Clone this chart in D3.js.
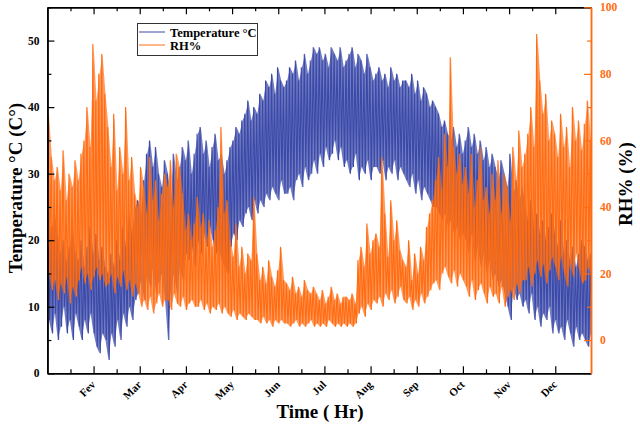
<!DOCTYPE html>
<html>
<head>
<meta charset="utf-8">
<script src="https://cdn.jsdelivr.net/npm/d3@7"></script>
<style>
  html, body { margin: 0; padding: 0; background: #fff; }
  svg { display: block; font-family: "Liberation Serif", "Times New Roman", serif; }
</style>
</head>
<body>
<svg id="chart" width="640" height="424"></svg>
<script>
// ---------- data ----------
// each entry = one 48-hour period; envelope (max / min) of the hourly trace
const monthLabels = ["Fev","Mar","Apr","May","Jun","Jul","Aug","Sep","Oct","Nov","Dec"];
const tempTicks = [0, 10, 20, 30, 40, 50];
const rhTicks = [0, 20, 40, 60, 80, 100];

const tempMax = [
  19,22,24,21,18,20,17,19,22,18,
  17,20,16,19,22,18,21,17,19,16,
  15,18,16,20,17,22,19,24,21,25,
  26,24,29,33,35,31,34,30,28,32,
  30,26,33,29,31,34,32,35,30,33,
  36,37,33,35,31,34,36,32,33,30,
  32,34,35,37,36,38,39,41,38,40,
  39,42,41,44,43,45,42,46,44,43,
  44,46,45,47,44,46,48,45,47,49,
  48,49,47,48,46,49,48,47,49,46,
  47,48,49,46,48,47,45,48,46,44,
  45,46,44,45,43,46,44,45,43,44,
  44,43,45,42,44,41,43,42,40,41,
  40,39,37,38,36,35,37,34,36,33,
  35,37,34,36,33,35,32,34,31,33,
  31,29,32,30,28,33,27,29,26,28,
  25,23,26,22,24,21,23,20,22,24,
  21,19,23,18,20,17,19,16,18,20,
  19,17,18
];
const tempMin = [
  8,6,9,5,7,10,6,8,5,9,
  7,5,8,6,9,6,4,3,6,5,
  2,6,4,8,5,9,7,10,8,11,
  12,14,11,15,13,16,12,14,15,11,
  5,13,15,12,16,14,18,17,19,16,
  20,18,21,19,22,20,18,19,17,16,
  15,19,21,20,23,22,24,25,23,26,
  24,26,25,27,26,28,27,26,29,27,
  27,28,26,29,30,28,31,29,30,32,
  30,33,31,34,32,33,35,32,34,31,
  32,30,31,33,29,31,30,32,29,31,
  31,30,32,29,31,30,32,29,31,30,
  29,28,30,27,29,26,28,27,26,25,
  25,24,23,24,22,23,21,22,20,21,
  20,18,21,17,19,16,18,15,17,14,
  15,13,14,12,10,8,13,11,12,10,
  11,9,12,8,10,7,9,8,10,6,
  8,6,7,5,8,6,4,7,5,6,
  5,4,6
];
const rhMax = [
  68,55,48,52,45,57,42,50,46,54,
  48,56,60,70,58,89,72,80,86,74,
  64,52,68,45,58,50,70,48,55,44,
  40,52,46,38,55,42,48,36,44,50,
  46,54,40,56,52,44,33,38,30,35,
  43,34,38,30,36,28,33,40,64,38,
  42,30,25,35,22,28,20,26,24,43,
  26,18,22,17,24,19,16,21,28,18,
  17,15,19,14,16,13,18,15,14,16,
  14,12,15,11,13,16,12,14,11,13,
  13,12,14,11,24,28,22,35,26,30,
  32,28,55,38,25,42,30,36,27,24,
  22,30,18,26,20,28,24,34,38,42,
  48,55,45,62,52,85,58,50,56,47,
  52,44,56,40,48,58,42,46,38,50,
  42,54,38,50,46,36,58,48,63,52,
  56,62,70,58,92,78,68,74,60,66,
  62,55,68,58,64,52,70,60,66,57,
  65,72,60
];
const rhMin = [
  20,15,18,12,17,14,19,11,16,13,
  18,22,17,20,15,19,22,18,20,16,
  17,20,14,19,16,21,15,18,13,17,
  14,10,12,9,13,8,11,14,10,12,
  12,9,14,11,10,13,9,11,12,10,
  10,12,9,11,8,10,9,11,8,10,
  8,7,9,6,8,7,6,8,7,6,
  6,5,7,5,6,4,6,5,6,5,
  5,4,5,6,4,5,4,5,6,4,
  5,4,5,4,6,5,4,5,4,5,
  4,5,4,5,8,10,7,11,9,12,
  11,13,10,14,12,15,11,13,16,12,
  11,13,9,12,10,14,11,13,15,17,
  18,15,20,22,19,17,21,16,20,18,
  16,13,18,12,15,17,14,11,16,13,
  14,11,16,10,13,15,12,17,14,18,
  18,22,16,20,24,19,23,17,21,25,
  22,18,25,20,16,23,19,26,21,17,
  18,22,20
];

// ---------- layout ----------
const BLUE = "#3b49a9", ORANGE = "#ff6c12";
const L = 47.4, R = 591, T = 7.3, B = 373.3;
const svg = d3.select("#chart");

const x = d3.scaleLinear().domain([0, 8760]).range([L, R]);
const yT = d3.scaleLinear().domain([0, 55]).range([B, T]);
const yR = d3.scaleLinear().domain([-10, 100]).range([B, T]);

const PERIOD = 48;
const tempPts = tempMax.flatMap((mx, i) => [[PERIOD * i + 12, mx], [PERIOD * i + 36, tempMin[i]]]);
const rhPts = rhMax.flatMap((mx, i) => [[PERIOD * i + 12, mx], [PERIOD * i + 36, rhMin[i]]]);
const tempBand = tempMax.map((mx, i) => ({ h: PERIOD * i + 24, hi: mx, lo: tempMin[i] }));
const rhBand = rhMax.map((mx, i) => ({ h: PERIOD * i + 24, hi: mx, lo: rhMin[i] }));

svg.append("defs").append("clipPath").attr("id", "clip")
  .append("rect").attr("x", L).attr("y", T).attr("width", R - L).attr("height", B - T);

const plot = svg.append("g").attr("clip-path", "url(#clip)");
// temperature
plot.append("path").datum(tempBand)
  .attr("fill", BLUE).attr("fill-opacity", 0.72).attr("stroke", "none")
  .attr("d", d3.area().x(d => x(d.h)).y0(d => yT(d.lo)).y1(d => yT(d.hi)));
plot.append("path").datum(tempPts)
  .attr("fill", "none").attr("stroke", BLUE).attr("stroke-width", 1.1)
  .attr("d", d3.line().x(d => x(d[0])).y(d => yT(d[1])));
// relative humidity
plot.append("path").datum(rhBand)
  .attr("fill", ORANGE).attr("fill-opacity", 0.68).attr("stroke", "none")
  .attr("d", d3.area().x(d => x(d.h)).y0(d => yR(d.lo)).y1(d => yR(d.hi)));
plot.append("path").datum(rhPts)
  .attr("fill", "none").attr("stroke", ORANGE).attr("stroke-width", 1.1)
  .attr("d", d3.line().x(d => x(d[0])).y(d => yR(d[1])));

// ---------- axes ----------
const monthTicks = monthLabels.map((m, i) => 744 * (i + 1));
const minorX = d3.range(0, 11).map(i => 744 * i + 372);

function styleAxis(g, color) {
  g.attr("color", color);
  g.select(".domain").attr("stroke-width", 1.5);
  g.selectAll(".tick line").attr("stroke-width", 1.2);
  g.selectAll("text").attr("font-family", "Liberation Serif, Times New Roman, serif")
    .attr("font-weight", "bold").attr("font-size", 11.5);
}

// bottom
const gB = svg.append("g").attr("transform", `translate(0,${B})`)
  .call(d3.axisBottom(x).tickValues(monthTicks).tickSize(-7).tickSizeOuter(0)
    .tickFormat((d, i) => monthLabels[i]));
styleAxis(gB, "#000");
gB.selectAll("text").attr("y", null).attr("dy", null)
  .attr("text-anchor", "end").attr("font-size", 11)
  .attr("transform", "translate(2,12) rotate(-45)");
svg.append("g").attr("transform", `translate(0,${B})`)
  .call(d3.axisBottom(x).tickValues(minorX).tickSize(-4).tickSizeOuter(0).tickFormat(""))
  .call(g => styleAxis(g, "#000"));

// top
svg.append("g").attr("transform", `translate(0,${T})`)
  .call(d3.axisTop(x).tickValues(monthTicks).tickSize(-7).tickSizeOuter(0).tickFormat(""))
  .call(g => styleAxis(g, "#000"));
svg.append("g").attr("transform", `translate(0,${T})`)
  .call(d3.axisTop(x).tickValues(minorX).tickSize(-4).tickSizeOuter(0).tickFormat(""))
  .call(g => styleAxis(g, "#000"));

// left
svg.append("g").attr("transform", `translate(${L},0)`)
  .call(d3.axisLeft(yT).tickValues(tempTicks).tickSize(-7).tickSizeOuter(0).tickPadding(8).tickFormat(d3.format("d")))
  .call(g => styleAxis(g, "#000"));
svg.append("g").attr("transform", `translate(${L},0)`)
  .call(d3.axisLeft(yT).tickValues(tempTicks.map(v => v + 5)).tickSize(-4).tickSizeOuter(0).tickFormat(""))
  .call(g => styleAxis(g, "#000"));

// right
svg.append("g").attr("transform", `translate(${R},0)`)
  .call(d3.axisRight(yR).tickValues(rhTicks).tickSize(-7).tickSizeOuter(0).tickPadding(9).tickFormat(d3.format("d")))
  .call(g => styleAxis(g, ORANGE));
svg.append("g").attr("transform", `translate(${R},0)`)
  .call(d3.axisRight(yR).tickValues(rhTicks.slice(0, 5).map(v => v + 10)).tickSize(-4).tickSizeOuter(0).tickFormat(""))
  .call(g => styleAxis(g, ORANGE));

// ---------- titles ----------
svg.append("text").attr("x", 320).attr("y", 418).attr("text-anchor", "middle")
  .attr("font-weight", "bold").attr("font-size", 19).text("Time ( Hr)");
svg.append("text").attr("transform", "translate(22,188) rotate(-90)").attr("text-anchor", "middle")
  .attr("font-weight", "bold").attr("font-size", 19).text("Temperature °C (C°)");
svg.append("text").attr("transform", "translate(632,184) rotate(-90)").attr("text-anchor", "middle")
  .attr("font-weight", "bold").attr("font-size", 19).text("RH% (%)");

// ---------- legend ----------
const lg = svg.append("g");
lg.append("rect").attr("x", 137.5).attr("y", 23.5).attr("width", 120).attr("height", 32)
  .attr("fill", "#fff").attr("stroke", "#333").attr("stroke-width", 1);
const legendItems = [{ name: "Temperature °C", color: BLUE }, { name: "RH%", color: ORANGE }];
legendItems.forEach((d, i) => {
  const yy = 32 + i * 13;
  lg.append("line").attr("x1", 139).attr("x2", 165).attr("y1", yy).attr("y2", yy)
    .attr("stroke", d.color).attr("stroke-width", 1);
  lg.append("text").attr("x", 170).attr("y", yy + 5).attr("font-weight", "bold")
    .attr("font-size", 12.5).text(d.name);
});
</script>
</body>
</html>
